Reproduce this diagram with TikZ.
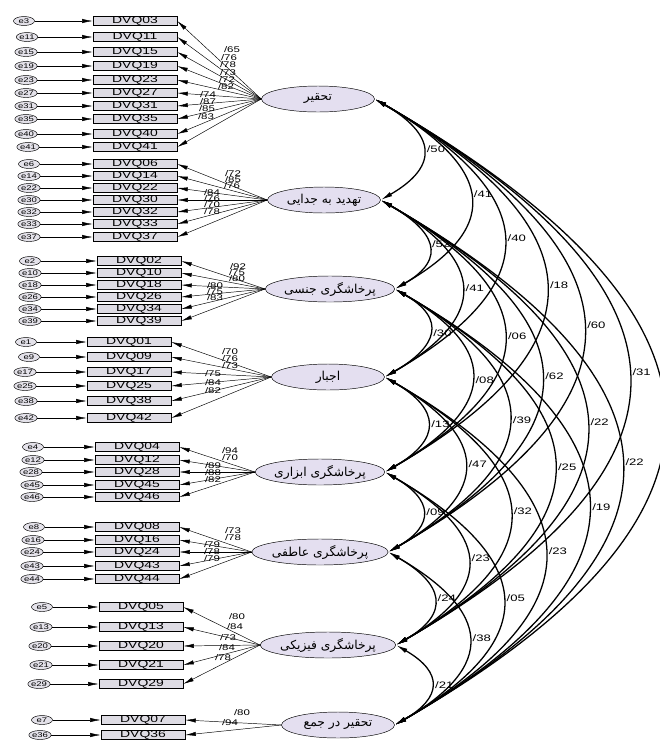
\documentclass[tikz,border=0pt]{standalone}
\usepackage{fontspec}
\setmainfont{Liberation Sans}[FakeStretch=1.4]
\newfontfamily\fafont[Script=Arabic]{DejaVu Sans}
\TeXXeTstate=1
\usetikzlibrary{shapes.geometric,arrows.meta}
\definecolor{latfill}{RGB}{228,223,240}
\definecolor{obsfill}{RGB}{222,220,228}
\definecolor{errfill}{RGB}{228,226,234}
\tikzstyle{latent}=[ellipse,draw,fill=latfill,minimum width=3.39cm,minimum height=0.78cm,inner sep=0pt,font=\fafont\fontsize{10.5}{12}\selectfont]
\tikzstyle{item}=[rectangle,draw,fill=obsfill,minimum width=2.52cm,minimum height=0.27cm,inner sep=0pt,font=\fontsize{8.5}{8.5}\selectfont]
\tikzstyle{err}=[ellipse,draw,fill=errfill,minimum width=0.63cm,minimum height=0.27cm,inner sep=0pt,font=\fontsize{5.8}{5.8}\selectfont]
\tikzstyle{load} = [draw,-{Latex[length=9pt,width=3.6pt]}]
\tikzstyle{cov} = [draw,line width=1.1pt,{Latex[length=10pt,width=4pt]}-{Latex[length=10pt,width=4pt]}]
\tikzstyle{coef} = [font=\fontsize{7}{7}\selectfont,inner sep=0.5pt]
\tikzstyle{covcoef} = [font=\fontsize{8}{8}\selectfont,inner sep=3pt,right]

\begin{document}
\begin{tikzpicture}[x=0.03cm,y=0.03cm]
        \useasboundingbox (0,0) rectangle (660,-742);
        % factors
        \node[latent] (f1) at (318, -99) {\beginR تحقیر\endR};
        \node[latent] (f2) at (324, -200) {\beginR تهدید به جدایی\endR};
        \node[latent] (f3) at (330, -289) {\beginR پرخاشگری جنسی\endR};
        \node[latent] (f4) at (328, -377) {\beginR اجبار\endR};
        \node[latent] (f5) at (320, -472) {\beginR پرخاشگری ابزاری\endR};
        \node[latent] (f6) at (320, -552) {\beginR پرخاشگری عاطفی\endR};
        \node[latent] (f7) at (328, -645) {\beginR پرخاشگری فیزیکی\endR};
        \node[latent] (f8) at (338, -725) {\beginR تحقیر در جمع\endR};
        % items
        \node[item] (q03) at (135, -21) {DVQ03};
        \node[item] (q11) at (135, -37) {DVQ11};
        \node[item] (q15) at (135, -52) {DVQ15};
        \node[item] (q19) at (135, -66) {DVQ19};
        \node[item] (q23) at (135, -80) {DVQ23};
        \node[item] (q27) at (135, -93) {DVQ27};
        \node[item] (q31) at (135, -106) {DVQ31};
        \node[item] (q35) at (135, -119) {DVQ35};
        \node[item] (q40) at (135, -134) {DVQ40};
        \node[item] (q41) at (135, -147) {DVQ41};
        \node[item] (q06) at (135, -164) {DVQ06};
        \node[item] (q14) at (135, -176) {DVQ14};
        \node[item] (q22) at (135, -188) {DVQ22};
        \node[item] (q30) at (135, -200) {DVQ30};
        \node[item] (q32) at (135, -212) {DVQ32};
        \node[item] (q33) at (135, -224) {DVQ33};
        \node[item] (q37) at (135, -237) {DVQ37};
        \node[item] (q02) at (139, -261) {DVQ02};
        \node[item] (q10) at (139, -273) {DVQ10};
        \node[item] (q18) at (139, -285) {DVQ18};
        \node[item] (q26) at (139, -297) {DVQ26};
        \node[item] (q34) at (139, -309) {DVQ34};
        \node[item] (q39) at (139, -321) {DVQ39};
        \node[item] (q01) at (129, -342) {DVQ01};
        \node[item] (q09) at (129, -357) {DVQ09};
        \node[item] (q17) at (129, -372) {DVQ17};
        \node[item] (q25) at (129, -386) {DVQ25};
        \node[item] (q38) at (129, -401) {DVQ38};
        \node[item] (q42) at (129, -418) {DVQ42};
        \node[item] (q04) at (137, -447) {DVQ04};
        \node[item] (q12) at (137, -460) {DVQ12};
        \node[item] (q28) at (137, -472) {DVQ28};
        \node[item] (q45) at (137, -485) {DVQ45};
        \node[item] (q46) at (137, -497) {DVQ46};
        \node[item] (q08) at (137, -527) {DVQ08};
        \node[item] (q16) at (137, -540) {DVQ16};
        \node[item] (q24) at (137, -552) {DVQ24};
        \node[item] (q43) at (137, -566) {DVQ43};
        \node[item] (q44) at (137, -579) {DVQ44};
        \node[item] (q05) at (141, -607) {DVQ05};
        \node[item] (q13) at (141, -627) {DVQ13};
        \node[item] (q20) at (141, -646) {DVQ20};
        \node[item] (q21) at (141, -665) {DVQ21};
        \node[item] (q29) at (141, -684) {DVQ29};
        \node[item] (q07) at (143, -720) {DVQ07};
        \node[item] (q36) at (143, -735) {DVQ36};
        % errors
        \node[err] (e3) at (24, -21) {e3};
        \node[err] (e11) at (27, -37) {e11};
        \node[err] (e15) at (26, -52) {e15};
        \node[err] (e19) at (26, -66) {e19};
        \node[err] (e23) at (26, -80) {e23};
        \node[err] (e27) at (26, -93) {e27};
        \node[err] (e31) at (26, -106) {e31};
        \node[err] (e35) at (26, -119) {e35};
        \node[err] (e40) at (26, -134) {e40};
        \node[err] (e41) at (28, -147) {e41};
        \node[err] (e6) at (29, -164) {e6};
        \node[err] (e14) at (29, -176) {e14};
        \node[err] (e22) at (29, -188) {e22};
        \node[err] (e30) at (29, -200) {e30};
        \node[err] (e32) at (29, -212) {e32};
        \node[err] (e33) at (29, -224) {e33};
        \node[err] (e37) at (29, -237) {e37};
        \node[err] (e2) at (30, -261) {e2};
        \node[err] (e10) at (30, -273) {e10};
        \node[err] (e18) at (30, -285) {e18};
        \node[err] (e26) at (30, -297) {e26};
        \node[err] (e34) at (30, -309) {e34};
        \node[err] (e39) at (30, -321) {e39};
        \node[err] (e1) at (26, -342) {e1};
        \node[err] (e9) at (29, -357) {e9};
        \node[err] (e17) at (25, -372) {e17};
        \node[err] (e25) at (25, -386) {e25};
        \node[err] (e38) at (26, -401) {e38};
        \node[err] (e42) at (26, -418) {e42};
        \node[err] (e4) at (33, -447) {e4};
        \node[err] (e12) at (33, -460) {e12};
        \node[err] (e28) at (31, -472) {e28};
        \node[err] (e45) at (32, -485) {e45};
        \node[err] (e46) at (32, -497) {e46};
        \node[err] (e8) at (34, -527) {e8};
        \node[err] (e16) at (33, -540) {e16};
        \node[err] (e24) at (32, -552) {e24};
        \node[err] (e43) at (32, -566) {e43};
        \node[err] (e44) at (32, -579) {e44};
        \node[err] (e5) at (42, -607) {e5};
        \node[err] (e13) at (41, -627) {e13};
        \node[err] (e20) at (40, -646) {e20};
        \node[err] (e21) at (41, -665) {e21};
        \node[err] (e29) at (39, -684) {e29};
        \node[err] (e7) at (42, -720) {e7};
        \node[err] (e36) at (40, -735) {e36};
        % error paths
        \path[load] (e3) -- (q03);
        \path[load] (e11) -- (q11);
        \path[load] (e15) -- (q15);
        \path[load] (e19) -- (q19);
        \path[load] (e23) -- (q23);
        \path[load] (e27) -- (q27);
        \path[load] (e31) -- (q31);
        \path[load] (e35) -- (q35);
        \path[load] (e40) -- (q40);
        \path[load] (e41) -- (q41);
        \path[load] (e6) -- (q06);
        \path[load] (e14) -- (q14);
        \path[load] (e22) -- (q22);
        \path[load] (e30) -- (q30);
        \path[load] (e32) -- (q32);
        \path[load] (e33) -- (q33);
        \path[load] (e37) -- (q37);
        \path[load] (e2) -- (q02);
        \path[load] (e10) -- (q10);
        \path[load] (e18) -- (q18);
        \path[load] (e26) -- (q26);
        \path[load] (e34) -- (q34);
        \path[load] (e39) -- (q39);
        \path[load] (e1) -- (q01);
        \path[load] (e9) -- (q09);
        \path[load] (e17) -- (q17);
        \path[load] (e25) -- (q25);
        \path[load] (e38) -- (q38);
        \path[load] (e42) -- (q42);
        \path[load] (e4) -- (q04);
        \path[load] (e12) -- (q12);
        \path[load] (e28) -- (q28);
        \path[load] (e45) -- (q45);
        \path[load] (e46) -- (q46);
        \path[load] (e8) -- (q08);
        \path[load] (e16) -- (q16);
        \path[load] (e24) -- (q24);
        \path[load] (e43) -- (q43);
        \path[load] (e44) -- (q44);
        \path[load] (e5) -- (q05);
        \path[load] (e13) -- (q13);
        \path[load] (e20) -- (q20);
        \path[load] (e21) -- (q21);
        \path[load] (e29) -- (q29);
        \path[load] (e7) -- (q07);
        \path[load] (e36) -- (q36);
        % factor loadings
        \path[load] (f1.west) -- (q03.east);
        \path[load] (f1.west) -- (q11.east);
        \path[load] (f1.west) -- (q15.east);
        \path[load] (f1.west) -- (q19.east);
        \path[load] (f1.west) -- (q23.east);
        \path[load] (f1.west) -- (q27.east);
        \path[load] (f1.west) -- (q31.east);
        \path[load] (f1.west) -- (q35.east);
        \path[load] (f1.west) -- (q40.east);
        \path[load] (f1.west) -- (q41.east);
        \path[load] (f2.west) -- (q06.east);
        \path[load] (f2.west) -- (q14.east);
        \path[load] (f2.west) -- (q22.east);
        \path[load] (f2.west) -- (q30.east);
        \path[load] (f2.west) -- (q32.east);
        \path[load] (f2.west) -- (q33.east);
        \path[load] (f2.west) -- (q37.east);
        \path[load] (f3.west) -- (q02.east);
        \path[load] (f3.west) -- (q10.east);
        \path[load] (f3.west) -- (q18.east);
        \path[load] (f3.west) -- (q26.east);
        \path[load] (f3.west) -- (q34.east);
        \path[load] (f3.west) -- (q39.east);
        \path[load] (f4.west) -- (q01.east);
        \path[load] (f4.west) -- (q09.east);
        \path[load] (f4.west) -- (q17.east);
        \path[load] (f4.west) -- (q25.east);
        \path[load] (f4.west) -- (q38.east);
        \path[load] (f4.west) -- (q42.east);
        \path[load] (f5.west) -- (q04.east);
        \path[load] (f5.west) -- (q12.east);
        \path[load] (f5.west) -- (q28.east);
        \path[load] (f5.west) -- (q45.east);
        \path[load] (f5.west) -- (q46.east);
        \path[load] (f6.west) -- (q08.east);
        \path[load] (f6.west) -- (q16.east);
        \path[load] (f6.west) -- (q24.east);
        \path[load] (f6.west) -- (q43.east);
        \path[load] (f6.west) -- (q44.east);
        \path[load] (f7.west) -- (q05.east);
        \path[load] (f7.west) -- (q13.east);
        \path[load] (f7.west) -- (q20.east);
        \path[load] (f7.west) -- (q21.east);
        \path[load] (f7.west) -- (q29.east);
        \path[load] (f8.west) -- (q07.east);
        \path[load] (f8.west) -- (q36.east);
        % loading values
        \node[coef] (l1a) at (232, -50) {/65};
        \node[coef] (l1b) at (229, -58) {/76};
        \node[coef] (l1c) at (228, -65) {/78};
        \node[coef] (l1d) at (228, -73) {/73};
        \node[coef] (l1e) at (227, -80) {/72};
        \node[coef] (l1f) at (226, -87) {/82};
        \node[coef] (l1g) at (208, -95) {/74};
        \node[coef] (l1h) at (208, -102) {/87};
        \node[coef] (l1i) at (207, -109) {/85};
        \node[coef] (l1j) at (206, -117) {/83};
        \node[coef] (l2a) at (233, -174) {/72};
        \node[coef] (l2b) at (233, -180) {/85};
        \node[coef] (l2c) at (232, -186) {/76};
        \node[coef] (l2d) at (212, -193) {/84};
        \node[coef] (l2e) at (212, -199) {/76};
        \node[coef] (l2f) at (212, -205) {/70};
        \node[coef] (l2g) at (212, -212) {/78};
        \node[coef] (l3a) at (238, -267) {/92};
        \node[coef] (l3b) at (237, -273) {/75};
        \node[coef] (l3c) at (237, -279) {/80};
        \node[coef] (l3d) at (215, -286) {/80};
        \node[coef] (l3e) at (215, -292) {/75};
        \node[coef] (l3f) at (215, -298) {/83};
        \node[coef] (l4a) at (230, -352) {/70};
        \node[coef] (l4b) at (230, -359) {/76};
        \node[coef] (l4c) at (230, -366) {/73};
        \node[coef] (l4d) at (213, -374) {/75};
        \node[coef] (l4e) at (213, -383) {/84};
        \node[coef] (l4f) at (213, -391) {/82};
        \node[coef] (l5a) at (230, -451) {/94};
        \node[coef] (l5b) at (230, -458) {/70};
        \node[coef] (l5c) at (213, -466) {/89};
        \node[coef] (l5d) at (213, -473) {/88};
        \node[coef] (l5e) at (213, -480) {/82};
        \node[coef] (l6a) at (233, -531) {/73};
        \node[coef] (l6b) at (233, -538) {/78};
        \node[coef] (l6c) at (212, -545) {/79};
        \node[coef] (l6d) at (212, -552) {/78};
        \node[coef] (l6e) at (212, -559) {/79};
        \node[coef] (l7a) at (237, -617) {/80};
        \node[coef] (l7b) at (235, -627) {/84};
        \node[coef] (l7c) at (228, -638) {/73};
        \node[coef] (l7d) at (227, -648) {/84};
        \node[coef] (l7e) at (223, -658) {/78};
        \node[coef] (l8a) at (242, -713) {/80};
        \node[coef] (l8b) at (230, -723) {/94};
        % covariances
        \path[cov] (f1.east) to[out=-30,in=30,looseness=1.75] node[covcoef] {/50} (f2.east);
        \path[cov] (f1.east) to[out=-30,in=30,looseness=1.75] node[covcoef] {/41} (f3.east);
        \path[cov] (f1.east) to[out=-30,in=30,looseness=1.75] node[covcoef] {/40} (f4.east);
        \path[cov] (f1.east) to[out=-30,in=30,looseness=1.75] node[covcoef] {/18} (f5.east);
        \path[cov] (f1.east) to[out=-30,in=30,looseness=1.75] node[covcoef] {/60} (f6.east);
        \path[cov] (f1.east) to[out=-30,in=30,looseness=1.75] node[covcoef] {/31} (f7.east);
        \path[cov] (f1.east) to[out=-30,in=30,looseness=1.75] (f8.east);
        \path[cov] (f2.east) to[out=-30,in=30,looseness=1.75] node[covcoef] {/52} (f3.east);
        \path[cov] (f2.east) to[out=-30,in=30,looseness=1.75] node[covcoef] {/41} (f4.east);
        \path[cov] (f2.east) to[out=-30,in=30,looseness=1.75] node[covcoef] {/06} (f5.east);
        \path[cov] (f2.east) to[out=-30,in=30,looseness=1.75] node[covcoef] {/62} (f6.east);
        \path[cov] (f2.east) to[out=-30,in=30,looseness=1.75] node[covcoef] {/22} (f7.east);
        \path[cov] (f2.east) to[out=-30,in=30,looseness=1.75] node[covcoef] {/22} (f8.east);
        \path[cov] (f3.east) to[out=-30,in=30,looseness=1.75] node[covcoef] {/30} (f4.east);
        \path[cov] (f3.east) to[out=-30,in=30,looseness=1.75] node[covcoef] {/08} (f5.east);
        \path[cov] (f3.east) to[out=-30,in=30,looseness=1.75] node[covcoef] {/39} (f6.east);
        \path[cov] (f3.east) to[out=-30,in=30,looseness=1.75] node[covcoef] {/25} (f7.east);
        \path[cov] (f3.east) to[out=-30,in=30,looseness=1.75] node[covcoef] {/19} (f8.east);
        \path[cov] (f4.east) to[out=-30,in=30,looseness=1.75] node[covcoef] {/13} (f5.east);
        \path[cov] (f4.east) to[out=-30,in=30,looseness=1.75] node[covcoef] {/47} (f6.east);
        \path[cov] (f4.east) to[out=-30,in=30,looseness=1.75] node[covcoef] {/32} (f7.east);
        \path[cov] (f4.east) to[out=-30,in=30,looseness=1.75] node[covcoef] {/23} (f8.east);
        \path[cov] (f5.east) to[out=-30,in=30,looseness=1.75] node[covcoef] {/09} (f6.east);
        \path[cov] (f5.east) to[out=-30,in=30,looseness=1.75] node[covcoef] {/23} (f7.east);
        \path[cov] (f5.east) to[out=-30,in=30,looseness=1.75] node[covcoef] {/05} (f8.east);
        \path[cov] (f6.east) to[out=-30,in=30,looseness=1.75] node[covcoef] {/24} (f7.east);
        \path[cov] (f6.east) to[out=-30,in=30,looseness=1.75] node[covcoef] {/38} (f8.east);
        \path[cov] (f7.east) to[out=-30,in=30,looseness=1.75] node[covcoef] {/21} (f8.east);
    \end{tikzpicture}
\end{document}
